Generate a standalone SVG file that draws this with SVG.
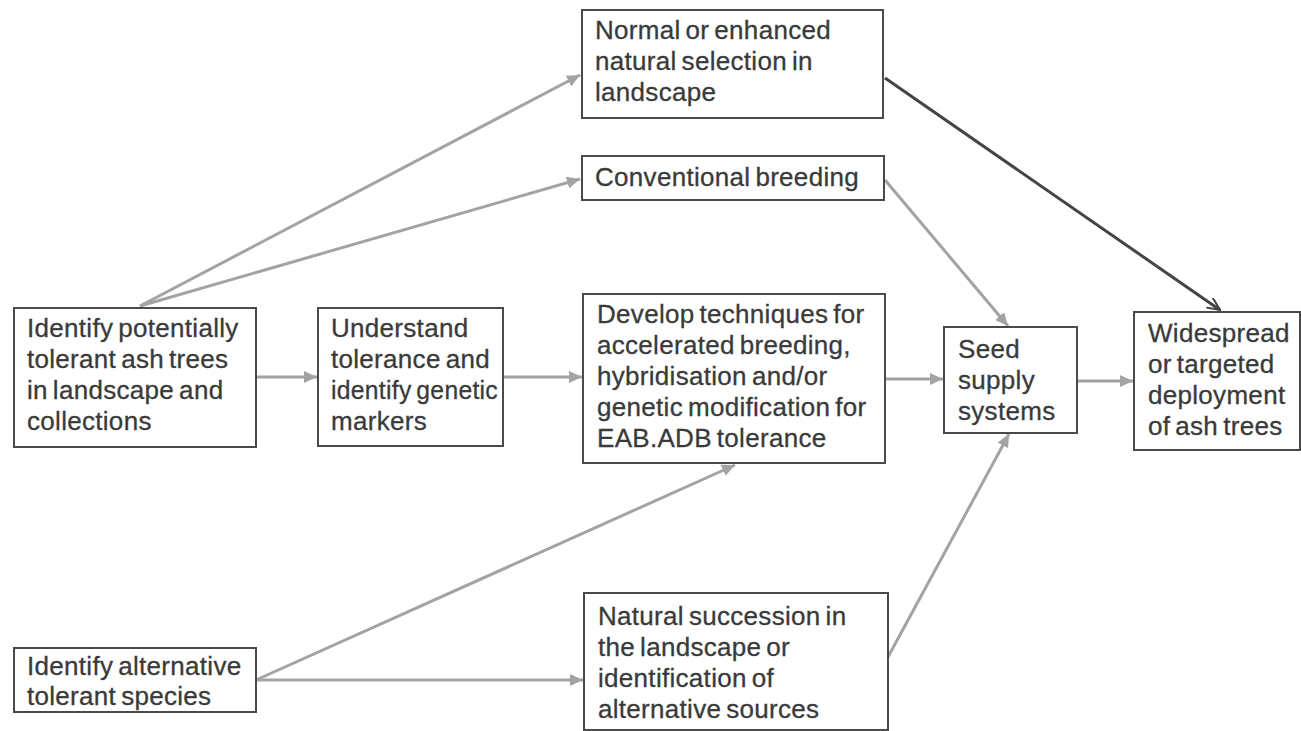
<svg xmlns="http://www.w3.org/2000/svg" width="1301" height="731" viewBox="0 0 1301 731">
<style>
.box{fill:#fff;stroke:#4a4a4a;stroke-width:2}
.t{font-family:"Liberation Sans",Arial,sans-serif;font-size:26px;fill:#3a3a3a;stroke:#3a3a3a;stroke-width:0.3;letter-spacing:0.3px;word-spacing:-2.5px}
.c{fill:none;stroke:#a3a3a3;stroke-width:3}
.d{fill:none;stroke:#444;stroke-width:3}
</style>
<defs>
<marker id="ag" markerUnits="userSpaceOnUse" markerWidth="14" markerHeight="12" refX="13" refY="6" orient="auto">
<path d="M0,0 L13,6 L0,12 z" fill="#a3a3a3"/>
</marker>
<marker id="ad" markerUnits="userSpaceOnUse" markerWidth="14" markerHeight="12" refX="13" refY="6" orient="auto">
<path d="M0,0 L13,6 L0,12" fill="none" stroke="#444" stroke-width="2"/>
</marker>
</defs>
<rect width="1301" height="731" fill="#fff"/>
<g id="connectors">
<line class="c" x1="140" y1="306" x2="580" y2="75" marker-end="url(#ag)"/>
<line class="c" x1="140" y1="306" x2="580" y2="179" marker-end="url(#ag)"/>
<line class="c" x1="256" y1="377" x2="317" y2="377" marker-end="url(#ag)"/>
<line class="c" x1="503" y1="377" x2="582" y2="377" marker-end="url(#ag)"/>
<line class="c" x1="885" y1="379" x2="943" y2="379" marker-end="url(#ag)"/>
<line class="c" x1="1077" y1="381" x2="1133" y2="381" marker-end="url(#ag)"/>
<line class="d" x1="885" y1="78" x2="1220" y2="310" marker-end="url(#ad)"/>
<line class="c" x1="885" y1="180" x2="1008" y2="326" marker-end="url(#ag)"/>
<line class="c" x1="256" y1="680" x2="735" y2="465" marker-end="url(#ag)"/>
<line class="c" x1="256" y1="680" x2="583" y2="680" marker-end="url(#ag)"/>
<line class="c" x1="888" y1="657" x2="1009" y2="434" marker-end="url(#ag)"/>
</g>
<g id="n1">
<rect class="box" x="14" y="308" width="242" height="139"/>
<text class="t" x="27" y="337">Identify potentially</text>
<text class="t" x="27" y="368">tolerant ash trees</text>
<text class="t" x="27" y="399">in  landscape and</text>
<text class="t" x="27" y="430">collections</text>
</g>
<g id="n2">
<rect class="box" x="318" y="308" width="185" height="138"/>
<text class="t" x="331" y="337">Understand</text>
<text class="t" x="331" y="368">tolerance and</text>
<text class="t" x="331" y="399" textLength="167" lengthAdjust="spacingAndGlyphs">identify genetic</text>
<text class="t" x="331" y="430">markers</text>
</g>
<g id="n3">
<rect class="box" x="583" y="294" width="302" height="169"/>
<text class="t" x="597" y="323">Develop techniques for</text>
<text class="t" x="597" y="354">accelerated breeding,</text>
<text class="t" x="597" y="385">hybridisation and/or</text>
<text class="t" x="597" y="416">genetic modification for</text>
<text class="t" x="597" y="447">EAB.ADB tolerance</text>
</g>
<g id="n4">
<rect class="box" x="582" y="10" width="301" height="108"/>
<text class="t" x="595" y="39">Normal or enhanced</text>
<text class="t" x="595" y="70">natural selection in</text>
<text class="t" x="595" y="101">landscape</text>
</g>
<g id="n5">
<rect class="box" x="582" y="156" width="302" height="44"/>
<text class="t" x="595" y="186">Conventional breeding</text>
</g>
<g id="n6">
<rect class="box" x="944" y="327" width="133" height="106"/>
<text class="t" x="958" y="358">Seed</text>
<text class="t" x="958" y="389">supply</text>
<text class="t" x="958" y="420">systems</text>
</g>
<g id="n7">
<rect class="box" x="1134" y="312" width="166" height="138"/>
<text class="t" x="1148" y="342">Widespread</text>
<text class="t" x="1148" y="373">or targeted</text>
<text class="t" x="1148" y="404">deployment</text>
<text class="t" x="1148" y="435">of ash trees</text>
</g>
<g id="n8">
<rect class="box" x="14" y="648" width="242" height="64"/>
<text class="t" x="27" y="675">Identify alternative</text>
<text class="t" x="27" y="705">tolerant species</text>
</g>
<g id="n9">
<rect class="box" x="584" y="593" width="304" height="137"/>
<text class="t" x="598" y="625">Natural succession in</text>
<text class="t" x="598" y="656">the landscape or</text>
<text class="t" x="598" y="687">identification of</text>
<text class="t" x="598" y="718">alternative sources</text>
</g>
</svg>
